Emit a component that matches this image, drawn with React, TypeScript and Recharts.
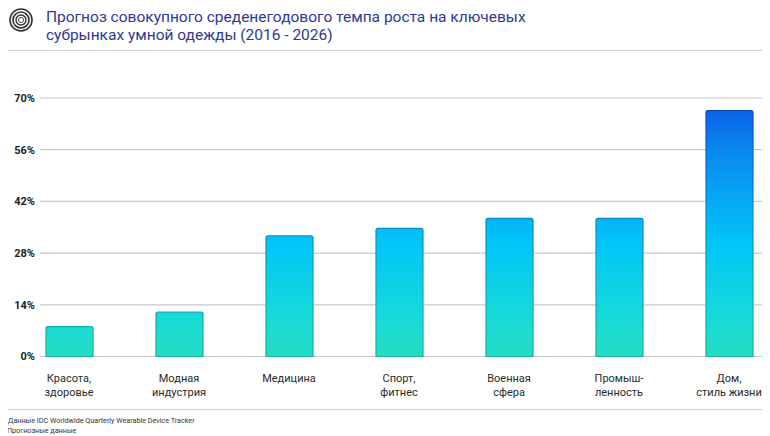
import React from "react";
import { BarChart, Bar, XAxis, YAxis, CartesianGrid, Cell } from "recharts";

const categories = [
  "Красота,\nздоровье",
  "Модная\nиндустрия",
  "Медицина",
  "Спорт,\nфитнес",
  "Военная\nсфера",
  "Промыш-\nленность",
  "Дом,\nстиль жизни",
];
const cagrValues = [8.1, 12.0, 32.7, 34.7, 37.4, 37.4, 66.6];
const yTicks = [0, 14, 28, 42, 56, 70];
const titleLines = [
  "Прогноз совокупного среденегодового темпа роста на ключевых",
  "субрынках умной одежды (2016 - 2026)",
];
const footnotes = [
  "Данные IDC Worldwide Quarterly Wearable Device Tracker",
  "* Прогнозные данные",
];

const data = categories.map((c, i) => ({ name: c, value: cagrValues[i] }));

const FONT = "Roboto, 'Liberation Sans', sans-serif";
const PLOT_TOP = 98;
const PLOT_BOTTOM = 356.5;

const XTick = (props: any) => {
  const { x, y, payload } = props;
  const lines = String(payload.value).split("\n");
  return (
    <g transform={`translate(${x},${y})`}>
      {lines.map((l, i) => (
        <text
          key={i}
          x={0}
          y={0}
          dy={17 + i * 14}
          textAnchor="middle"
          fontSize={11}
          fontFamily={FONT}
          fill="#2a2a2a"
        >
          {l}
        </text>
      ))}
    </g>
  );
};

const Icon = () => (
  <svg width={30} height={30} style={{ position: "absolute", left: 6, top: 5 }}>
    <circle cx={15} cy={15} r={11} fill="none" stroke="#333" strokeWidth={1.6} />
    <circle cx={15} cy={15} r={8} fill="none" stroke="#333" strokeWidth={1.6} />
    <circle cx={15} cy={15} r={5} fill="none" stroke="#333" strokeWidth={1.4} />
    <circle cx={15} cy={15} r={2.6} fill="none" stroke="#555" strokeWidth={1} />
  </svg>
);

export default function App() {
  return (
    <div
      style={{
        position: "relative",
        width: 770,
        height: 436,
        marginLeft: -8,
        marginTop: -8,
        background: "#fff",
        overflow: "hidden",
        fontFamily: FONT,
      }}
    >
      <Icon />
      <div
        style={{
          position: "absolute",
          left: 46,
          top: 8,
          fontSize: 15.5,
          lineHeight: "18px",
          color: "#2d3a92",
          fontFamily: FONT,
        }}
      >
        {titleLines.map((t, i) => (
          <div key={i}>{t}</div>
        ))}
      </div>
      <div
        style={{
          position: "absolute",
          left: 0,
          top: 50,
          width: 770,
          height: 1,
          background: "#cfcfcf",
        }}
      />
      <div
        style={{
          position: "absolute",
          left: 0,
          top: 409,
          width: 770,
          height: 1,
          background: "#cfcfcf",
        }}
      />
      <div
        style={{
          position: "absolute",
          left: 2,
          top: 416,
          fontSize: 7.2,
          lineHeight: "10px",
          color: "#333",
          fontFamily: FONT,
          whiteSpace: "nowrap",
        }}
      >
        <div style={{ paddingLeft: 6 }}>{footnotes[0]}</div>
        <div>{footnotes[1]}</div>
      </div>
      <div style={{ position: "absolute", left: 0, top: 0 }}>
        <BarChart
          width={770}
          height={436}
          data={data}
          margin={{ top: PLOT_TOP, right: 4, bottom: 436 - PLOT_BOTTOM - 30, left: 0 }}
        >
          <defs>
            <linearGradient
              id="barFill"
              gradientUnits="userSpaceOnUse"
              x1={0}
              y1={PLOT_BOTTOM}
              x2={0}
              y2={PLOT_TOP}
            >
              <stop offset="0%" stopColor="#26dcc2" />
              <stop offset="15%" stopColor="#16dbd8" />
              <stop offset="42%" stopColor="#02c7f6" />
              <stop offset="55%" stopColor="#04b2f6" />
              <stop offset="80%" stopColor="#0a88f0" />
              <stop offset="100%" stopColor="#0a58e6" />
            </linearGradient>
            <linearGradient
              id="barStroke"
              gradientUnits="userSpaceOnUse"
              x1={0}
              y1={PLOT_BOTTOM}
              x2={0}
              y2={PLOT_TOP}
            >
              <stop offset="0%" stopColor="#14b0a0" />
              <stop offset="20%" stopColor="#10aab8" />
              <stop offset="50%" stopColor="#0690c8" />
              <stop offset="100%" stopColor="#0a3fb8" />
            </linearGradient>
          </defs>
          <CartesianGrid vertical={false} stroke="#c9c9c9" strokeWidth={1.2} />
          <XAxis
            dataKey="name"
            height={30}
            axisLine={false}
            tickLine={false}
            interval={0}
            tick={<XTick />}
            padding={{ left: -26, right: -18 }}
          />
          <YAxis
            width={40}
            domain={[0, 70]}
            ticks={yTicks}
            axisLine={false}
            tickLine={false}
            tickSize={0}
            tickMargin={5}
            tickFormatter={(v: number) => `${v}%`}
            tick={{ fontSize: 11, fontWeight: 700, fill: "#222", fontFamily: FONT }}
          />
          <Bar
            dataKey="value"
            barSize={47}
            radius={[2, 2, 0, 0]}
            isAnimationActive={false}
            fill="url(#barFill)"
            stroke="url(#barStroke)"
            strokeWidth={1.2}
          >
            {data.map((d, i) => (
              <Cell key={i} fill="url(#barFill)" stroke="url(#barStroke)" />
            ))}
          </Bar>
        </BarChart>
      </div>
    </div>
  );
}
